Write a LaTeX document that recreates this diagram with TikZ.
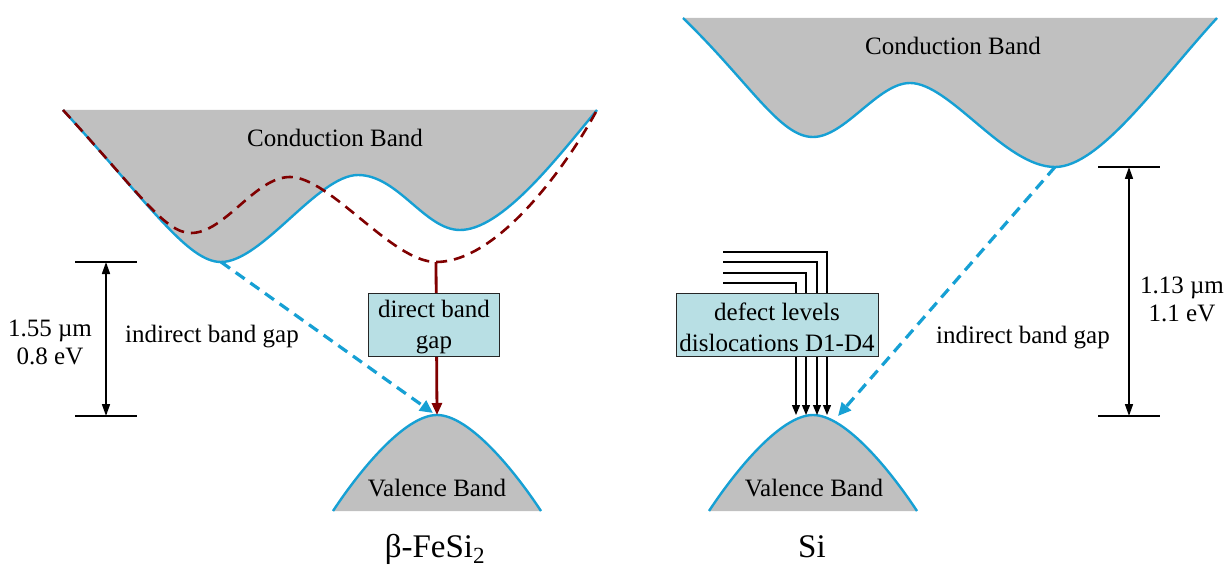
\documentclass[tikz,border=0pt]{standalone}
\usepackage{fontspec}
\setmainfont{Liberation Serif}
\usetikzlibrary{arrows.meta}
\definecolor{bandgray}{RGB}{192,192,192}
\definecolor{bandblue}{RGB}{22,160,212}
\definecolor{dred}{RGB}{128,0,0}
\definecolor{boxblue}{RGB}{184,223,228}
\begin{document}
\begin{tikzpicture}[x=1pt,y=-1pt,
  bandfill/.style={fill=bandgray},
  bandline/.style={draw=bandblue,line width=2.4pt},
  indirect/.style={draw=bandblue,line width=3.2pt,dash pattern=on 11pt off 7pt,
    -{Triangle[length=13pt,width=12pt]}},
  directcurve/.style={draw=dred,line width=2.6pt,dash pattern=on 11pt off 7pt},
  directarrow/.style={draw=dred,line width=2.8pt,-{Triangle[length=12pt,width=10pt]}},
  dimarrow/.style={draw=black,line width=1.6pt,
    {Triangle[length=12pt,width=8pt]}-{Triangle[length=12pt,width=8pt]}},
  tick/.style={draw=black,line width=1.2pt},
  defectline/.style={draw=black,line width=1.2pt,-{Triangle[length=10pt,width=8pt]}},
  lbl/.style={font=\fontsize{25}{28}\selectfont,inner sep=0pt,align=center},
  boxlbl/.style={font=\fontsize{25}{31}\selectfont,inner sep=0pt,align=center},
  biglbl/.style={font=\fontsize{33}{36}\selectfont,inner sep=0pt,anchor=base},
  gapbox/.style={draw=black!85,line width=0.9pt,fill=boxblue,inner sep=0pt}
]
\useasboundingbox (0,0) rectangle (1227,567);

% ---------------- left: beta-FeSi2 ----------------
\coordinate (LCBmin) at (221,262);
\coordinate (LRedMin) at (436,262);
\coordinate (LVBtop) at (437,415);
\coordinate (LVBtip) at (433,413);

\fill[bandfill] (63,110) .. controls (150,205) and (188,262) .. (221,262)
  .. controls (262,262) and (318,175) .. (358,175)
  .. controls (398,175) and (425,230) .. (460,230)
  .. controls (502,230) and (557,158) .. (597,110) -- cycle;
\draw[bandline] (63,110) .. controls (150,205) and (188,262) .. (221,262)
  .. controls (262,262) and (318,175) .. (358,175)
  .. controls (398,175) and (425,230) .. (460,230)
  .. controls (502,230) and (557,158) .. (597,110);
\draw[directcurve] (63,110) .. controls (140,194) and (165,233) .. (191,233)
  .. controls (225,233) and (255,177) .. (290,177)
  .. controls (330,177) and (392,262) .. (436,262)
  .. controls (500,262) and (570,160) .. (597,110);
\node[lbl] (lcb) at (335,138) {Conduction Band};

\fill[bandfill] (333,511) .. controls (360,470) and (405,415) .. (437,415)
  .. controls (469,415) and (514,470) .. (541,511) -- cycle;
\draw[bandline] (333,511) .. controls (360,470) and (405,415) .. (437,415)
  .. controls (469,415) and (514,470) .. (541,511);
\node[lbl] (lvb) at (437,488) {Valence Band};

\draw[indirect] (LCBmin) -- (LVBtip);
\draw[directarrow] (LRedMin) -- (LVBtop);
\node[gapbox,minimum width=131pt,minimum height=63pt] (direct) at (434,324.5) {};
\node[boxlbl] (directtxt) at ([yshift=-3pt]direct.center) {direct band\\gap};

\coordinate (LdimTop) at (106,262);
\coordinate (LdimBot) at (106,416);
\draw[tick] (75,262) -- (137,262);
\draw[tick] (75,416) -- (137,416);
\draw[dimarrow] (LdimTop) -- (LdimBot);
\node[lbl] (ldim) at (50,342) {1.55 µm\\0.8 eV};
\node[lbl] (lind) at (212,337) {indirect band gap};

\node[biglbl] (fesi) at (435,557) {β-FeSi\textsubscript{2}};

% ---------------- right: Si ----------------
\coordinate (RCBmin) at (1055,167);
\coordinate (RVBtip) at (838,416);

\fill[bandfill] (683,18) .. controls (750,83) and (780,137) .. (813,137)
  .. controls (845,137) and (878,83) .. (910,83)
  .. controls (950,83) and (1005,167) .. (1055,167)
  .. controls (1100,167) and (1160,80) .. (1217,18) -- cycle;
\draw[bandline] (683,18) .. controls (750,83) and (780,137) .. (813,137)
  .. controls (845,137) and (878,83) .. (910,83)
  .. controls (950,83) and (1005,167) .. (1055,167)
  .. controls (1100,167) and (1160,80) .. (1217,18);
\node[lbl] (rcb) at (953,46) {Conduction Band};

\fill[bandfill] (709,511) .. controls (736,470) and (781,415) .. (813,415)
  .. controls (845,415) and (890,470) .. (917,511) -- cycle;
\draw[bandline] (709,511) .. controls (736,470) and (781,415) .. (813,415)
  .. controls (845,415) and (890,470) .. (917,511);
\node[lbl] (rvb) at (814,488) {Valence Band};

\draw[indirect] (RCBmin) -- (RVBtip);

\foreach \i/\x/\y in {1/827/252,2/817/262,3/806/273,4/796/283}{
  \coordinate (ds\i) at (723,\y);
  \coordinate (de\i) at (\x,415);
  \draw[defectline] (ds\i) -| (de\i);
}
\node[gapbox,minimum width=202pt,minimum height=63pt] (defect) at (777,325) {};
\node[boxlbl] (defecttxt) at ([yshift=-2pt]defect.center) {defect levels\\dislocations D1-D4};

\coordinate (RdimTop) at (1129,167);
\coordinate (RdimBot) at (1129,416);
\draw[tick] (1098,167) -- (1160,167);
\draw[tick] (1098,416) -- (1160,416);
\draw[dimarrow] (RdimTop) -- (RdimBot);
\node[lbl] (rdim) at (1182,299) {1.13 µm\\1.1 eV};
\node[lbl] (rind) at (1023,338) {indirect band gap};

\node[biglbl] (si) at (812,557) {Si};
\end{tikzpicture}
\end{document}
